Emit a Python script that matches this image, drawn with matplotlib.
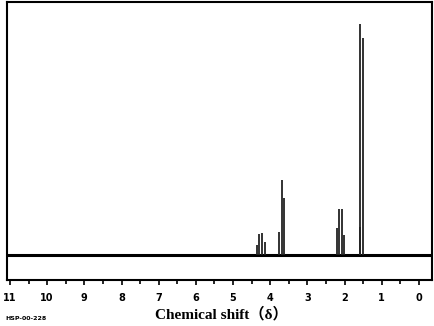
import matplotlib
matplotlib.use("Agg")
import matplotlib.pyplot as plt
from matplotlib.ticker import MultipleLocator

# peak positions (ppm) and heights (baseline = 0)
shift_ch2o = [4.35, 4.29, 4.21, 4.14]
height_ch2o = [10, 21, 22, 13]
shift_och3 = [3.77, 3.69, 3.63]
height_och3 = [23, 75, 57]
shift_ch3co = [2.21, 2.16, 2.08, 2.01]
height_ch3co = [27, 46, 46, 20]
shift_ch3 = [1.59, 1.51, 1.58]
height_ch3 = [231, 217, 28]

ticks = list(range(11, -1, -1))

fig = plt.figure(figsize=(4.35, 3.26), dpi=100)
ax = fig.add_axes([7 / 435, 46 / 326, 425 / 435, 278.5 / 326])

ax.axhline(0, color="black", lw=2.2)
for s, h in [(shift_ch2o, height_ch2o), (shift_och3, height_och3),
             (shift_ch3co, height_ch3co), (shift_ch3, height_ch3)]:
    ax.vlines(s, 0, h, color="#222222", lw=1.3)

ax.set_xlim(11.08, -0.35)
ax.set_ylim(-25, 253)
ax.set_yticks([])
ax.set_xticks(ticks)
ax.set_xticklabels([str(t) for t in ticks], fontsize=7, fontweight="bold")
ax.xaxis.set_minor_locator(MultipleLocator(0.5))
ax.tick_params(axis="x", which="major", length=3.6, width=1.2, pad=5.5)
ax.tick_params(axis="x", which="minor", length=2.6, width=1.2)
for sp in ax.spines.values():
    sp.set_linewidth(1.5)

fig.text(221 / 435, 1 - 318 / 326, "Chemical shift（δ）", ha="center", va="baseline",
         fontsize=11, fontweight="bold", family=["Liberation Serif", "Noto Sans CJK SC"])
fig.text(5 / 435, 1 - 320 / 326, "HSP-00-228", ha="left", va="baseline",
         fontsize=4.5, fontweight="bold")

fig.savefig("out.png", dpi=100)
